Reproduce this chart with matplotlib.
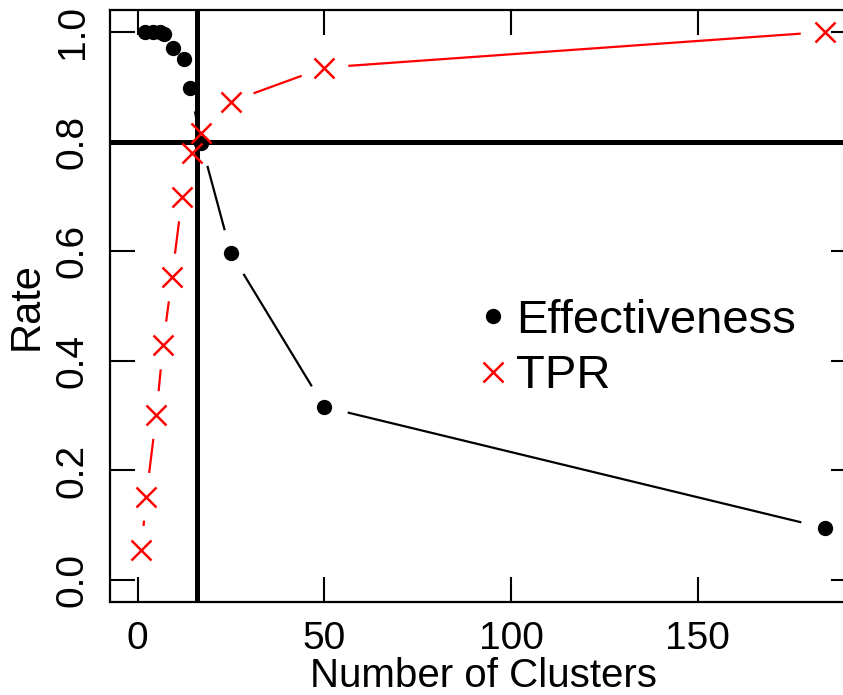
import numpy as np
import matplotlib
matplotlib.use("Agg")
import matplotlib.pyplot as plt
from matplotlib.lines import Line2D

plt.rcParams['font.family'] = ['Liberation Sans', 'DejaVu Sans']

# data
eff_x = [2, 4, 6, 7, 9.4, 12.3, 14.1, 17, 25, 50, 184]
eff_y = [1.0, 1.0, 1.0, 0.997, 0.971, 0.95, 0.898, 0.798, 0.596, 0.316, 0.095]
tpr_x = [1, 2.3, 5, 6.8, 9.2, 11.9, 14.5, 17, 25, 50, 184]
tpr_y = [0.055, 0.152, 0.301, 0.428, 0.552, 0.698, 0.779, 0.816, 0.873, 0.935, 1.0]
cut_x = 16
cut_y = 0.8
x_ticks = [0, 50, 100, 150]
y_ticks = [0.0, 0.2, 0.4, 0.6, 0.8, 1.0]

W, H = 843, 695
fig = plt.figure(figsize=(W / 100, H / 100), dpi=100)
# right edge of the box lies past the picture, like the original crop
ax = fig.add_axes([110 / W, 93 / H, (856 - 110) / W, (602 - 10) / H])
ax.set_xlim(-7.4, 192.4)
ax.set_ylim(-0.04, 1.04)

for s in ax.spines.values():
    s.set_linewidth(1.6)
ax.tick_params(direction='in', length=18, width=1.5, top=True, right=True,
               labelsize=28, pad=14)
ax.set_xticks(x_ticks)
ax.set_xticklabels([str(t) for t in x_ticks])
ax.set_yticks(y_ticks)
ax.set_yticklabels(['%.1f' % t for t in y_ticks], rotation=90, va='center')
ax.set_xlabel('Number of Clusters', fontsize=29, labelpad=0)
ax.set_ylabel('Rate', fontsize=30, labelpad=6)

ax.axvline(cut_x, color='black', lw=3.6, zorder=2)
ax.axhline(cut_y, color='black', lw=3.6, zorder=2)


def type_b(ax, xs, ys, color, gap=24):
    # lines broken around each point, as in R's type="b"
    pts = ax.transData.transform(np.column_stack([xs, ys]))
    inv = ax.transData.inverted()
    for p0, p1 in zip(pts[:-1], pts[1:]):
        d = p1 - p0
        L = np.hypot(*d)
        if L <= 2 * gap:
            continue
        u = d / L
        seg = inv.transform(np.array([p0 + u * gap, p1 - u * gap]))
        ax.plot(seg[:, 0], seg[:, 1], color=color, lw=1.6, zorder=3,
                solid_capstyle='butt')


type_b(ax, eff_x, eff_y, 'black')
type_b(ax, tpr_x, tpr_y, '#ff0000')
ax.plot(eff_x, eff_y, 'o', color='black', ms=10, zorder=4)
ax.plot(tpr_x, tpr_y, 'x', color='#ff0000', ms=15, mew=1.8, zorder=5)

handles = [Line2D([], [], ls='none', marker='o', color='black', ms=10),
           Line2D([], [], ls='none', marker='x', color='#ff0000', ms=15, mew=1.8)]
fig.legend(handles, ['Effectiveness', 'TPR'], loc='upper left',
           bbox_to_anchor=(455 / W, 1 - 275 / H), frameon=False,
           fontsize=34, handlelength=0.6, handletextpad=0.2,
           labelspacing=0.25, borderpad=0)

fig.savefig('out.png', dpi=100)
